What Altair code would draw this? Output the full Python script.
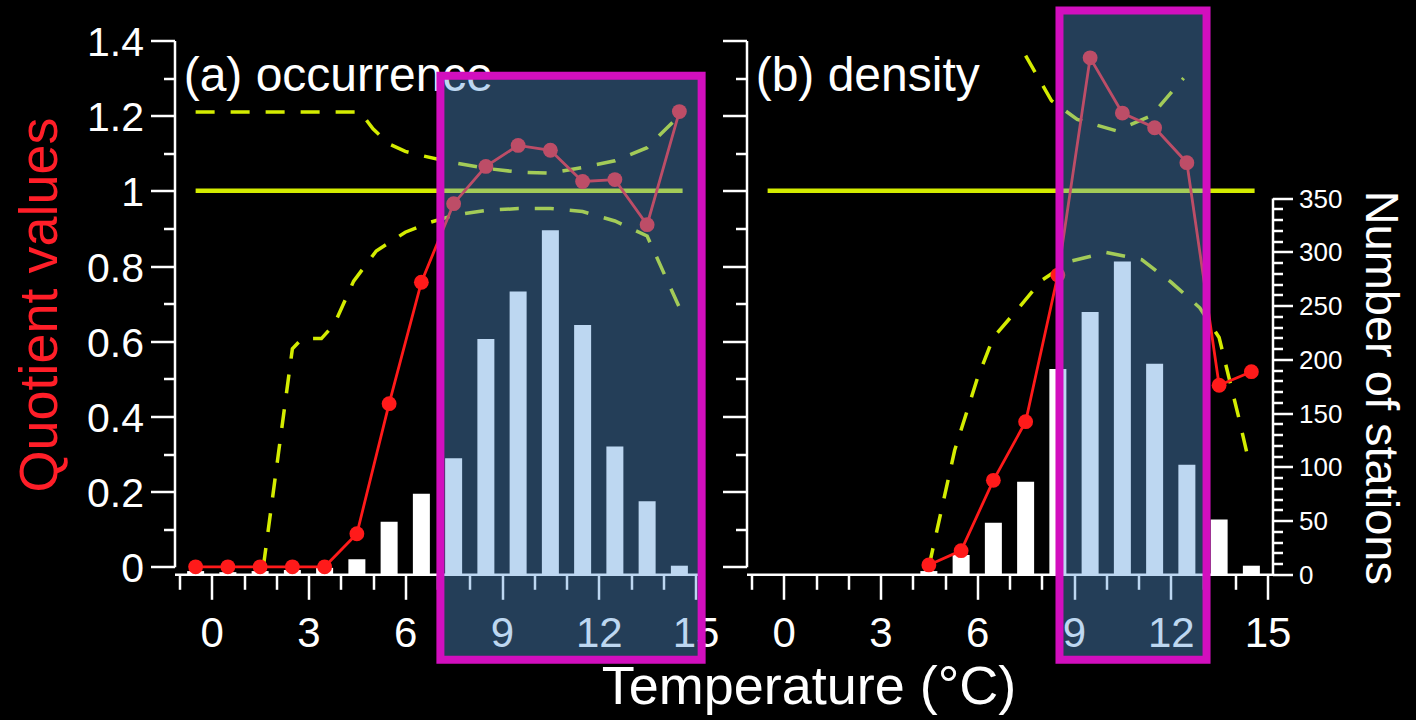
import altair as alt
import pandas as pd

# ---------------- data ----------------
bins = [-0.5, 0.5, 1.5, 2.5, 3.5, 4.5, 5.5, 6.5, 7.5, 8.5, 9.5, 10.5, 11.5, 12.5, 13.5, 14.5]
stations_a = [3, 2, 3, 4, 6, 14, 49, 75, 108, 219, 263, 320, 232, 119, 68, 8]
stations_b = [0, 0, 0, 0, 0, 3, 18, 48, 86, 191, 244, 291, 196, 102, 51, 8]
quot_a = [0.0, 0.0, 0.0, 0.0, 0.0, 0.088, 0.434, 0.757, 0.966, 1.065, 1.121, 1.108, 1.025, 1.03, 0.91, 1.211]
quot_b_t = [4.5, 5.5, 6.5, 7.5, 8.5, 9.5, 10.5, 11.5, 12.5, 13.5, 14.5]
quot_b = [0.005, 0.043, 0.23, 0.386, 0.776, 1.354, 1.207, 1.168, 1.075, 0.483, 0.519]

upper_a_t = [-0.5, 4.6, 5.0, 5.5, 6.0, 6.5, 7.5, 8.5, 9.5, 10.5, 11.5, 12.5, 13.5, 14.5]
upper_a = [1.21, 1.21, 1.165, 1.125, 1.105, 1.094, 1.075, 1.06, 1.05, 1.047, 1.062, 1.08, 1.115, 1.20]
lower_a_t = [1.6, 2.5, 2.8, 3.4, 3.8, 4.4, 5.1, 6.0, 6.8, 7.5, 8.5, 9.5, 10.5, 11.5, 12.5, 13.5, 14.5]
lower_a = [0.0, 0.58, 0.607, 0.607, 0.645, 0.76, 0.84, 0.89, 0.917, 0.935, 0.948, 0.953, 0.953, 0.945, 0.92, 0.88, 0.69]

upper_b_t = [7.5, 8.3, 9.1, 10.3, 11.4, 12.4]
upper_b = [1.36, 1.24, 1.19, 1.16, 1.2, 1.30]
lower_b_t = [4.5, 5.3, 6.0, 6.5, 7.2, 8.0, 8.9, 10.0, 11.1, 12.0, 12.9, 13.5, 14.1, 14.45]
lower_b = [0.0, 0.31, 0.5, 0.61, 0.68, 0.762, 0.813, 0.836, 0.817, 0.758, 0.689, 0.61, 0.40, 0.27]

x_ticks = list(range(-1, 16))
y_ticks = [round(i * 0.1, 1) for i in range(15)]
r_ticks = list(range(0, 351, 10))

# ---------------- styling ----------------
FONT = "Liberation Sans"
WHITE = "#ffffff"
RED = "#ff1a1a"
YELLOW = "#d4ec00"
MAGENTA = "#d20fbe"
VEIL = "rgba(90,155,220,0.4)"

W = 526
H = 526.3

xs = alt.Scale(domain=[-1, 15], nice=False, zero=False)
ys = alt.Scale(domain=[0, 1.4], nice=False, zero=False)
rs = alt.Scale(domain=[0, 350], range=[533.8, 157.6], nice=False, zero=False)

one_row = pd.DataFrame({"k": [0]})


def x_axis(title=None):
    kw = dict(
        values=x_ticks,
        labelExpr="datum.value % 3 === 0 ? datum.label : ''",
        tickSize={"condition": {"test": "datum.value % 3 === 0", "value": 25}, "value": 15},
        labelPadding=14, labelFontSize=42, labelFlush=False, labelOverlap=False,
        offset=7.5, grid=False,
    )
    if title:
        kw.update(title=title, titleX=62, titleY=129.5, titleFontSize=54,
                  titleBaseline="alphabetic", titleAlign="center", titleColor=WHITE)
    else:
        kw.update(title=None)
    return alt.Axis(**kw)


def y_axis(labels=True):
    kw = dict(
        values=y_ticks, orient="left",
        tickSize={"condition": {"test": "round(datum.value*10) % 2 === 0", "value": 24}, "value": 11},
        grid=False,
    )
    if labels:
        kw.update(
            labelExpr="round(datum.value*10) % 2 === 0 ? format(datum.value, '.1~f') : ''",
            labelPadding=7, labelFontSize=41, labelBaseline="alphabetic", labelOffset=15,
            labelOverlap=False, labelFlush=False,
            title="Quotient values", titleColor="#ff1e28", titleFontSize=54, titleAngle=270,
            titleX=-118, titleY=264, titleBaseline="alphabetic", titleAlign="center",
        )
    else:
        kw.update(labels=False, title=None)
    return alt.Axis(**kw)


def r_axis(show=True):
    if not show:
        return None
    return alt.Axis(
        orient="right", values=r_ticks,
        labelExpr="datum.value % 50 === 0 ? datum.label : ''",
        tickSize={"condition": {"test": "datum.value % 50 === 0", "value": 20}, "value": 10},
        labelPadding=6, labelFontSize=26, labelBaseline="alphabetic", labelOffset=9,
        labelOverlap=False, labelFlush=False, grid=False,
        title="Number of stations", titleFontSize=47, titleAngle=90, titleX=92.7, titleY=346.8,
        titleBaseline="alphabetic", titleAlign="center", titleColor=WHITE,
    )


def panel(stations, qt, qv, up_t, up_v, lo_t, lo_v, label, box, left_labels, right_axis, xtitle):
    xa = x_axis(xtitle)
    ya = y_axis(left_labels)
    bars_df = pd.DataFrame({"t": bins, "n": stations})
    q_df = pd.DataFrame({"t": qt, "q": qv})
    env_df = pd.concat([
        pd.DataFrame({"t": up_t, "q": up_v, "bound": "upper"}),
        pd.DataFrame({"t": lo_t, "q": lo_v, "bound": "lower"}),
    ])

    X = lambda f: alt.X(f, type="quantitative", scale=xs, axis=xa)
    Y = lambda f: alt.Y(f, type="quantitative", scale=ys, axis=ya)

    bars = alt.Chart(bars_df).mark_bar(size=17, color=WHITE).encode(
        x=X("t"),
        y=alt.Y("n", type="quantitative", scale=rs, axis=r_axis(right_axis)),
    )

    one = alt.Chart(one_row).mark_rule(color=YELLOW, strokeWidth=4.5).encode(
        x=alt.XDatum(-0.5, type="quantitative", scale=xs, axis=xa),
        x2=alt.X2Datum(14.6),
        y=alt.YDatum(1.0, type="quantitative", scale=ys, axis=ya),
    )

    env = alt.Chart(env_df).mark_line(color=YELLOW, strokeWidth=3.5, strokeDash=[19, 16]).encode(
        x=X("t"), y=Y("q"), detail="bound:N",
    )

    line = alt.Chart(q_df).mark_line(color=RED, strokeWidth=2.8).encode(x=X("t"), y=Y("q"))
    pts = alt.Chart(q_df).mark_circle(color=RED, size=220, opacity=1).encode(x=X("t"), y=Y("q"))

    txt = alt.Chart(one_row).mark_text(
        text=label, align="left", baseline="alphabetic", fontSize=48, font=FONT, color=WHITE
    ).encode(
        x=alt.XDatum(-0.87, type="quantitative", scale=xs, axis=xa),
        y=alt.YDatum(1.266, type="quantitative", scale=ys, axis=ya),
    )

    veil = alt.Chart(one_row).mark_rect(
        fill=VEIL, stroke=MAGENTA, strokeWidth=8, strokeOpacity=1
    ).encode(
        x=alt.XDatum(box[0], type="quantitative", scale=xs, axis=xa),
        x2=alt.X2Datum(box[1]),
        y=alt.YDatum(box[3], type="quantitative", scale=ys, axis=ya),
        y2=alt.Y2Datum(box[2]),
    )

    inner = alt.layer(one, env, line, pts, txt, veil)
    return alt.layer(bars, inner).resolve_scale(y="independent").properties(width=W, height=H)


pa = panel(stations_a, bins, quot_a, upper_a_t, upper_a, lower_a_t, lower_a,
           "(a) occurrence", (7.09, 15.19, -0.247, 1.306), True, False, None)
pb = panel(stations_b, quot_b_t, quot_b, upper_b_t, upper_b, lower_b_t, lower_b,
           "(b) density", (8.55, 13.11, -0.247, 1.48), False, True, "Temperature (°C)")

chart = alt.hconcat(pa, pb, spacing=46).properties(
    bounds="flush",
    padding={"left": 13.5, "top": 5.5, "right": 12, "bottom": 14},
).configure(
    background="#000000", font=FONT,
).configure_view(stroke=None).configure_axis(
    domainColor=WHITE, domainWidth=2.5, tickColor=WHITE, tickWidth=2.5,
    labelColor=WHITE, labelFont=FONT, titleFont=FONT, titleFontWeight="normal", grid=False,
)

chart.save("out.html", embed_options={"renderer": "svg", "actions": False})
